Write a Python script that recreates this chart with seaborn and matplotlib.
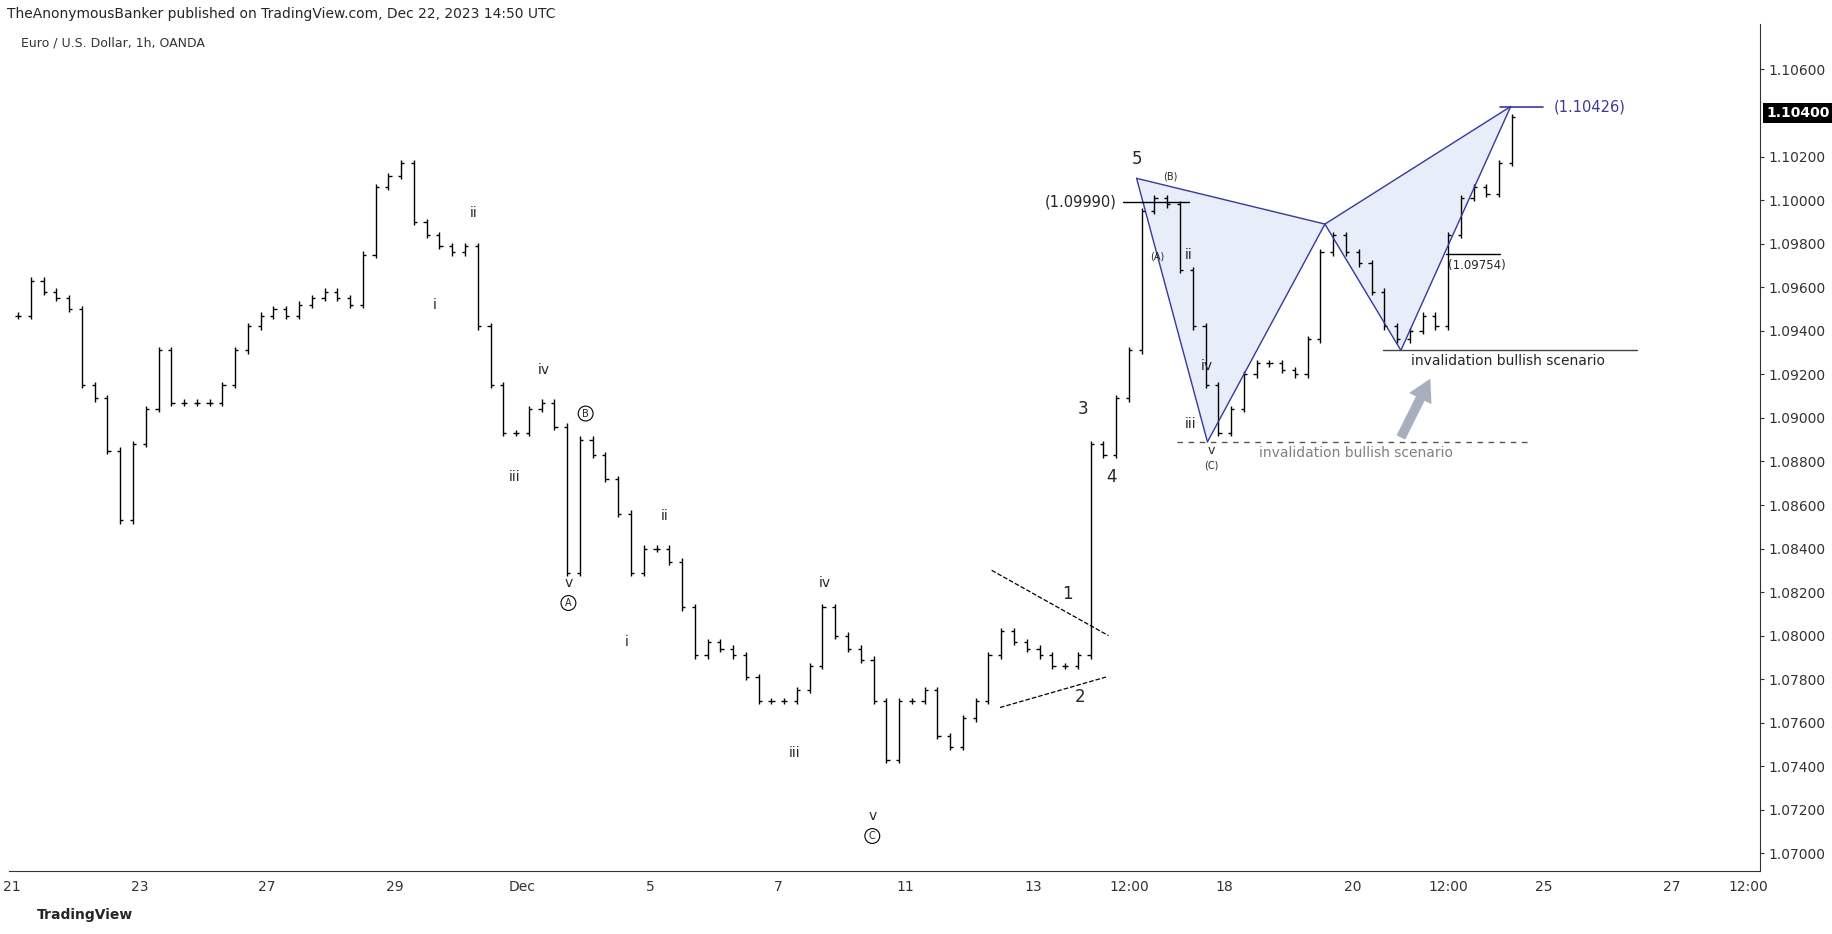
import numpy as np
import pandas as pd
import matplotlib
matplotlib.use("Agg")
import matplotlib.pyplot as plt
import seaborn as sns

tick_pos = [0, 2, 4, 6, 8, 10, 12, 14, 16, 17.5, 19, 21, 22.5, 24, 26, 27.2]
tick_lbl = ["21", "23", "27", "29", "Dec", "5", "7", "11", "13", "12:00", "18", "20", "12:00", "25", "27", "12:00"]

closes_by_day = [
    [1.0947, 1.0963, 1.0958, 1.0955, 1.0950],
    [1.0915, 1.0909, 1.0885, 1.0853, 1.0888],
    [1.0904, 1.0931, 1.0907, 1.0907, 1.0907],
    [1.0907, 1.0915, 1.0931, 1.0942, 1.0947],
    [1.0950, 1.0947, 1.0952, 1.0955, 1.0958],
    [1.0955, 1.0952, 1.0975, 1.1006, 1.1011],
    [1.1017, 1.0990, 1.0984, 1.0979, 1.0976],
    [1.0979, 1.0942, 1.0915, 1.0893, 1.0893],
    [1.0904, 1.0907, 1.0896, 1.0829, 1.0890],
    [1.0883, 1.0872, 1.0856, 1.0829, 1.0840],
    [1.0840, 1.0834, 1.0813, 1.0791, 1.0797],
    [1.0794, 1.0791, 1.0781, 1.0770, 1.0770],
    [1.0770, 1.0775, 1.0786, 1.0813, 1.0800],
    [1.0794, 1.0789, 1.0770, 1.0743, 1.0770],
    [1.0770, 1.0775, 1.0754, 1.0749, 1.0762],
    [1.0770, 1.0791, 1.0802, 1.0797, 1.0794],
    [1.0791, 1.0786, 1.0786, 1.0791, 1.0888],
    [1.0883, 1.0909, 1.0931, 1.0995, 1.1001],
    [1.0998, 1.0968, 1.0942, 1.0915, 1.0893],
    [1.0904, 1.0920, 1.0925, 1.0925, 1.0922],
    [1.0920, 1.0936, 1.0976, 1.0984, 1.0976],
    [1.0971, 1.0958, 1.0942, 1.0936, 1.0940],
    [1.0947, 1.0942, 1.0984, 1.1001, 1.1006],
    [1.1003, 1.1017, 1.1038],
]

pat_t = [17.62, 18.73, 20.57, 21.76, 23.48]
pat_p = [1.1010, 1.0889, 1.0989, 1.0931, 1.1043]

labels = [
    ("i", 6.63, 1.0952, 10), ("ii", 7.23, 1.0994, 10), ("iii", 7.88, 1.0873, 10),
    ("iv", 8.33, 1.0922, 10), ("v", 8.72, 1.0824, 10),
    ("ii", 10.22, 1.0855, 10), ("i", 9.63, 1.0797, 10),
    ("iv", 12.73, 1.0824, 10), ("iii", 12.27, 1.0746, 10), ("v", 13.48, 1.0717, 10),
    ("1", 16.54, 1.0819, 12), ("2", 16.74, 1.0772, 12),
    ("3", 16.78, 1.0904, 12), ("4", 17.23, 1.0873, 12), ("5", 17.62, 1.1019, 12),
    ("(B)", 18.15, 1.1011, 7), ("(A)", 17.95, 1.0974, 7), ("ii", 18.44, 1.0975, 10),
    ("iv", 18.72, 1.0924, 10), ("iii", 18.46, 1.0897, 10), ("v", 18.79, 1.0885, 9),
    ("(C)", 18.79, 1.0878, 7),
]
circled = [("A", 8.72, 1.0815), ("B", 8.99, 1.0902), ("C", 13.48, 1.0708)]
last_price = 1.1040

times, closes = [], []
for d, vals in enumerate(closes_by_day):
    for k, v in enumerate(vals):
        times.append(d + k / 5 + 0.1)
        closes.append(v)
df = pd.DataFrame({"t": times, "c": closes})
df["o"] = df["c"].shift(1).fillna(df["c"])

sns.set_style("white")
plt.rcParams["font.family"] = ["DejaVu Sans"]
fig = plt.figure(figsize=(18.33, 9.34), dpi=100)
ax = fig.add_axes([0.005, 0.0676, 0.955, 0.907])

hi = df[["o", "c"]].max(axis=1)
lo = df[["o", "c"]].min(axis=1)
ax.vlines(df["t"], lo - 0.00015, hi + 0.00015, color="black", lw=1.0)
ax.hlines(df["o"], df["t"] - 0.05, df["t"], color="black", lw=1.0)
ax.hlines(df["c"], df["t"], df["t"] + 0.05, color="black", lw=1.0)

navy = "#3a3a9c"
ax.fill([pat_t[0], pat_t[1], pat_t[2]], [pat_p[0], pat_p[1], pat_p[2]], color="#e3eaf8", alpha=0.8, zorder=0)
ax.fill([pat_t[2], pat_t[3], pat_t[4]], [pat_p[2], pat_p[3], pat_p[4]], color="#e3eaf8", alpha=0.8, zorder=0)
for i, j in [(0, 1), (1, 2), (0, 2), (2, 3), (3, 4), (2, 4)]:
    ax.plot([pat_t[i], pat_t[j]], [pat_p[i], pat_p[j]], color=navy, lw=1)

ax.plot([15.35, 17.18], [1.0830, 1.0800], ls="--", color="black", lw=0.9)
ax.plot([15.48, 17.14], [1.0767, 1.0781], ls="--", color="black", lw=0.9)

ax.plot([17.40, 18.44], [1.0999, 1.0999], color="black", lw=1)
ax.text(17.3, 1.0999, "(1.09990)", ha="right", va="center", fontsize=10.5)
ax.plot([23.32, 23.99], [1.10426, 1.10426], color=navy, lw=1.2)
ax.text(24.15, 1.10426, "(1.10426)", ha="left", va="center", fontsize=10.5, color=navy)
ax.plot([22.47, 23.32], [1.09754, 1.09754], color="black", lw=1)
ax.text(22.95, 1.0970, "(1.09754)", ha="center", va="center", fontsize=8.5)
ax.plot([21.48, 25.46], [1.0931, 1.0931], color="#444444", lw=1)
ax.text(23.44, 1.0926, "invalidation bullish scenario", ha="center", va="center", fontsize=10)
ax.plot([18.26, 23.81], [1.0889, 1.0889], color="#555555", lw=1, ls=(0, (4, 4)))
ax.text(21.06, 1.0884, "invalidation bullish scenario", ha="center", va="center", fontsize=10, color="#808080")
ax.annotate("", xy=(22.22, 1.0918), xytext=(21.76, 1.0891),
            arrowprops=dict(facecolor="#a7afbd", edgecolor="none", width=7, headwidth=18, headlength=16))

for s, t, p, fs in labels:
    ax.text(t, p, s, ha="center", va="center", fontsize=fs)
for s, t, p in circled:
    ax.text(t, p, s, ha="center", va="center", fontsize=7,
            bbox=dict(boxstyle="circle,pad=0.25", facecolor="white", edgecolor="black", lw=0.8))

ax.set_xlim(-0.04, 27.38)
ax.set_ylim(1.0692, 1.1081)
ax.set_xticks(tick_pos)
ax.set_xticklabels(tick_lbl, fontsize=10)
yt = [v for v in np.arange(1.070, 1.1061, 0.002) if abs(v - last_price) > 0.0005]
ax.yaxis.tick_right()
ax.set_yticks(yt)
ax.set_yticklabels([f"{v:.5f}" for v in yt], fontsize=10)
ax.tick_params(axis="both", length=3, colors="#333333")
for s in ["top", "left"]:
    ax.spines[s].set_visible(False)
ax.spines["right"].set_color("#333333")
ax.spines["bottom"].set_color("#333333")
ax.text(1.004, (last_price - 1.0692) / (1.1081 - 1.0692), f"{last_price:.5f}", transform=ax.transAxes, ha="left",
        va="center", fontsize=10, color="white", weight="bold",
        bbox=dict(facecolor="black", edgecolor="none", pad=2.5))
ax.text(0.007, 0.985, "Euro / U.S. Dollar, 1h, OANDA", transform=ax.transAxes, fontsize=9, va="top", color="#333333")
fig.text(0.004, 0.985, "TheAnonymousBanker published on TradingView.com, Dec 22, 2023 14:50 UTC", fontsize=10, va="center")
fig.text(0.02, 0.02, "TradingView", fontsize=10, va="center", weight="bold")
fig.savefig("out.png", dpi=100)
